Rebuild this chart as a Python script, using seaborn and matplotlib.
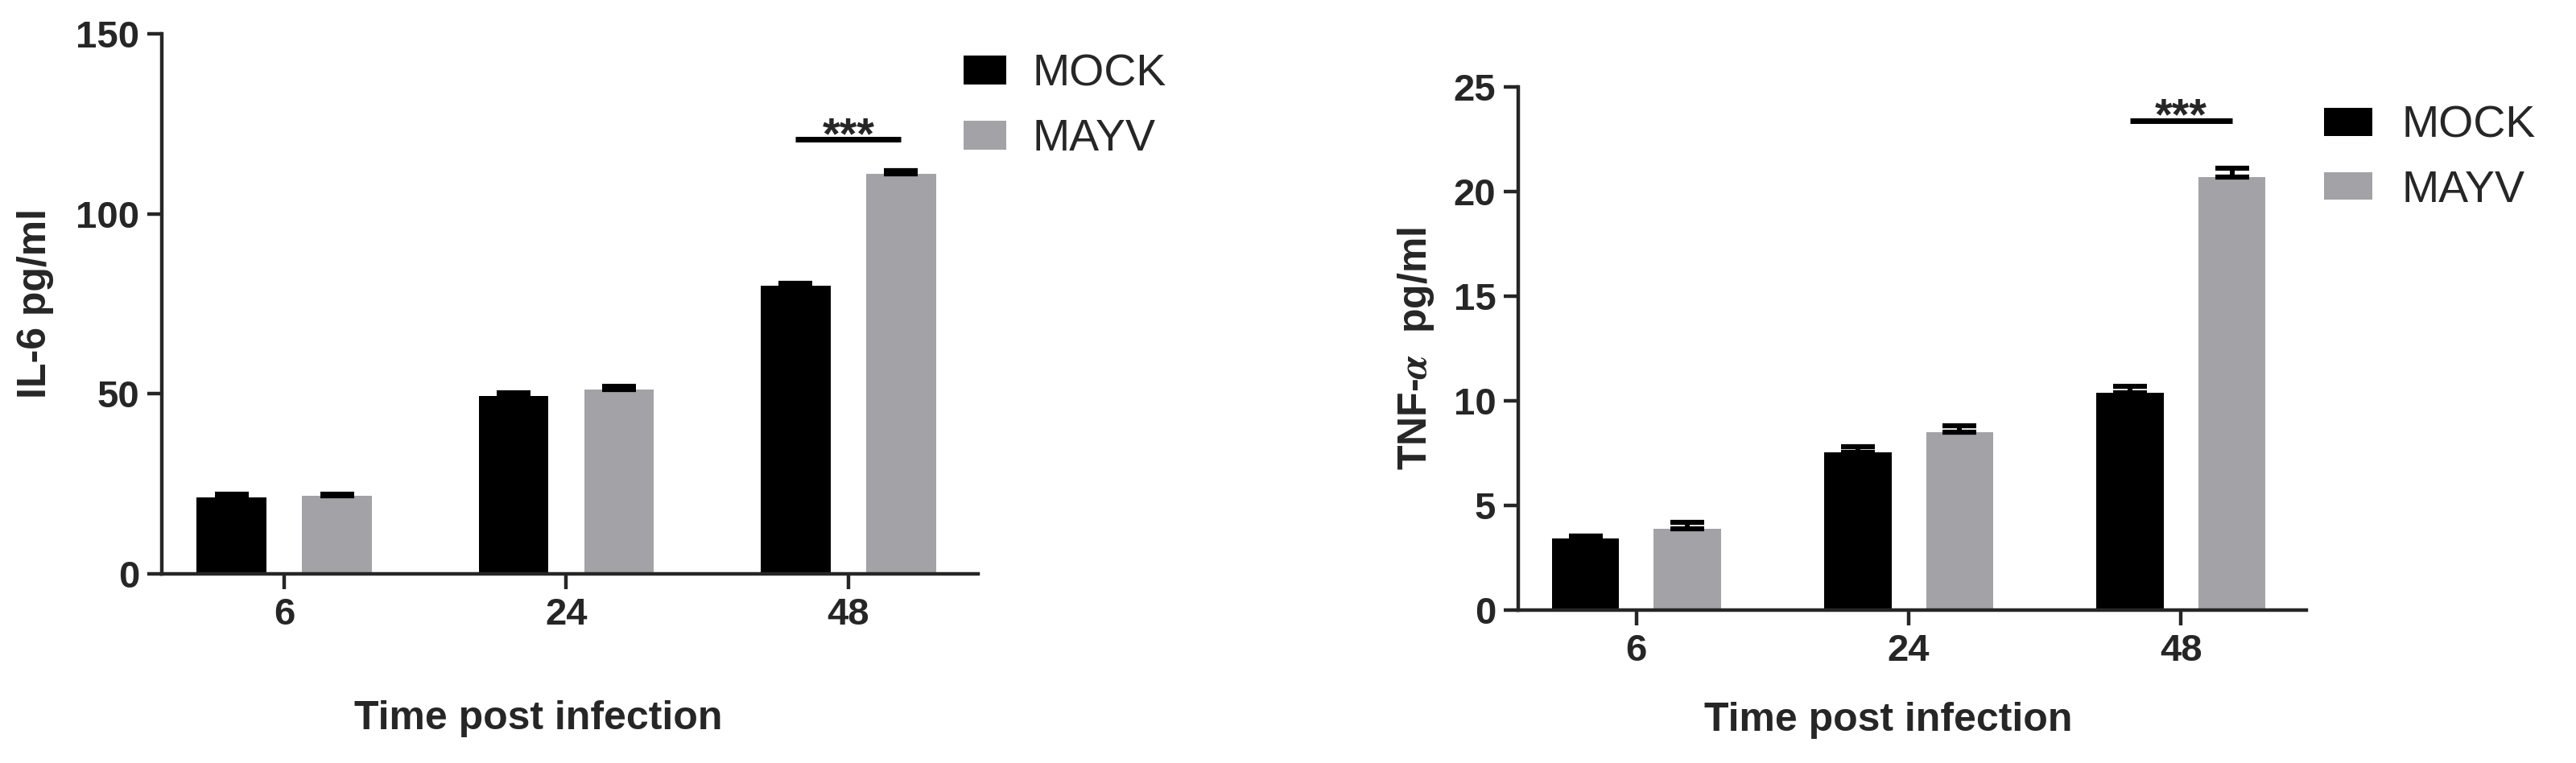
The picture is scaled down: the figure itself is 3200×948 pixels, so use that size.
import numpy as np
import pandas as pd
import seaborn as sns
import matplotlib.pyplot as plt
from matplotlib.patches import Patch

# data
times = ['6', '24', '48']
groups = ['MOCK', 'MAYV']

il6_mock = [21.2, 49.3, 80.0]
il6_mock_err = [0.9, 0.9, 0.8]
il6_mayv = [21.6, 51.3, 111.1]
il6_mayv_err = [0.6, 0.8, 1.0]

tnf_mock = [3.42, 7.55, 10.4]
tnf_mock_err = [0.12, 0.27, 0.3]
tnf_mayv = [3.88, 8.5, 20.7]
tnf_mayv_err = [0.3, 0.3, 0.4]

il6_sig = 120.7
tnf_sig = 23.4

black = '#000000'
grey = '#a3a2a7'

sns.set_style('ticks')
plt.rcParams['font.family'] = ['Liberation Sans', 'DejaVu Sans']
plt.rcParams['font.weight'] = 'bold'
plt.rcParams['mathtext.fontset'] = 'stix'


def long_df(mock, mayv):
    return pd.DataFrame({'time': times * 2,
                         'group': ['MOCK'] * 3 + ['MAYV'] * 3,
                         'value': mock + mayv})


def panel(ax, mock, mock_err, mayv, mayv_err, ylim, yticks, ylabel, sig_y):
    df = long_df(mock, mayv)
    sns.barplot(data=df, x='time', y='value', hue='group', order=times,
                hue_order=groups, palette=[black, grey], width=0.748, gap=0.34,
                errorbar=None, saturation=1, linewidth=0, legend=False, ax=ax)
    centers = []
    for cont, err in zip(ax.containers, [mock_err, mayv_err]):
        xs = [b.get_x() + b.get_width() / 2 for b in cont]
        hs = [b.get_height() for b in cont]
        centers.append(xs)
        ax.errorbar(xs, hs, yerr=[np.zeros(len(err)), err], fmt='none',
                    ecolor='black', elinewidth=4.3, capsize=15, capthick=4.5,
                    zorder=3)
    # significance bar over the 48 h pair
    x0, x1 = centers[0][2], centers[1][2]
    ax.plot([x0, x1], [sig_y, sig_y], color='black', lw=5,
            solid_capstyle='butt')
    ax.annotate('***', xy=((x0 + x1) / 2, sig_y), xytext=(0, -8),
                textcoords='offset points', ha='center', va='baseline',
                fontsize=40, fontweight='bold')

    ax.set_xlim(-0.434, 2.46)
    ax.set_ylim(*ylim)
    ax.set_yticks(yticks)
    ax.set_xlabel('Time post infection', fontsize=36, fontweight='bold')
    ax.set_ylabel(ylabel, fontsize=36, fontweight='bold')
    sns.despine(ax=ax)
    for s in ['left', 'bottom']:
        ax.spines[s].set_linewidth(3.2)
    ax.tick_params(axis='both', width=3.2, labelsize=34, pad=7)
    ax.tick_params(axis='y', length=13)
    ax.tick_params(axis='x', length=14)
    for lab in ax.get_xticklabels() + ax.get_yticklabels():
        lab.set_fontweight('bold')


fig = plt.figure(figsize=(32, 9.48), dpi=100)
ax1 = fig.add_axes([0.0628, 0.2479, 0.3169, 0.7078])
ax2 = fig.add_axes([0.5894, 0.2004, 0.3059, 0.6857])

panel(ax1, il6_mock, il6_mock_err, il6_mayv, il6_mayv_err,
      (0, 150), [0, 50, 100, 150], 'IL-6 pg/ml', il6_sig)
panel(ax2, tnf_mock, tnf_mock_err, tnf_mayv, tnf_mayv_err,
      (0, 25), [0, 5, 10, 15, 20, 25], r'TNF-$\alpha$  pg/ml', tnf_sig)

ax1.xaxis.set_label_coords(0.4615, -0.234)
ax1.yaxis.set_label_coords(-0.132, 0.5)
ax2.xaxis.set_label_coords(0.47, -0.175)
ax2.yaxis.set_label_coords(-0.104, 0.5)

handles = [Patch(facecolor=black, edgecolor='none'),
           Patch(facecolor=grey, edgecolor='none')]
leg_font = {'family': ['Liberation Sans Narrow', 'Liberation Sans'],
            'size': 40, 'weight': 'normal'}
ax1.legend(handles, groups, loc='upper left', bbox_to_anchor=(1197 / 3200, 0.930),
           bbox_transform=fig.transFigure, frameon=False, prop=leg_font,
           handlelength=0.95, handleheight=0.63, handletextpad=0.59,
           labelspacing=0.52, borderpad=0, borderaxespad=0)
ax2.legend(handles, groups, loc='upper left', bbox_to_anchor=(2887 / 3200, 0.862),
           bbox_transform=fig.transFigure, frameon=False, prop=leg_font,
           handlelength=1.08, handleheight=0.59, handletextpad=0.65,
           labelspacing=0.5, borderpad=0, borderaxespad=0)

fig.savefig('out.png', dpi=100, facecolor='white')
